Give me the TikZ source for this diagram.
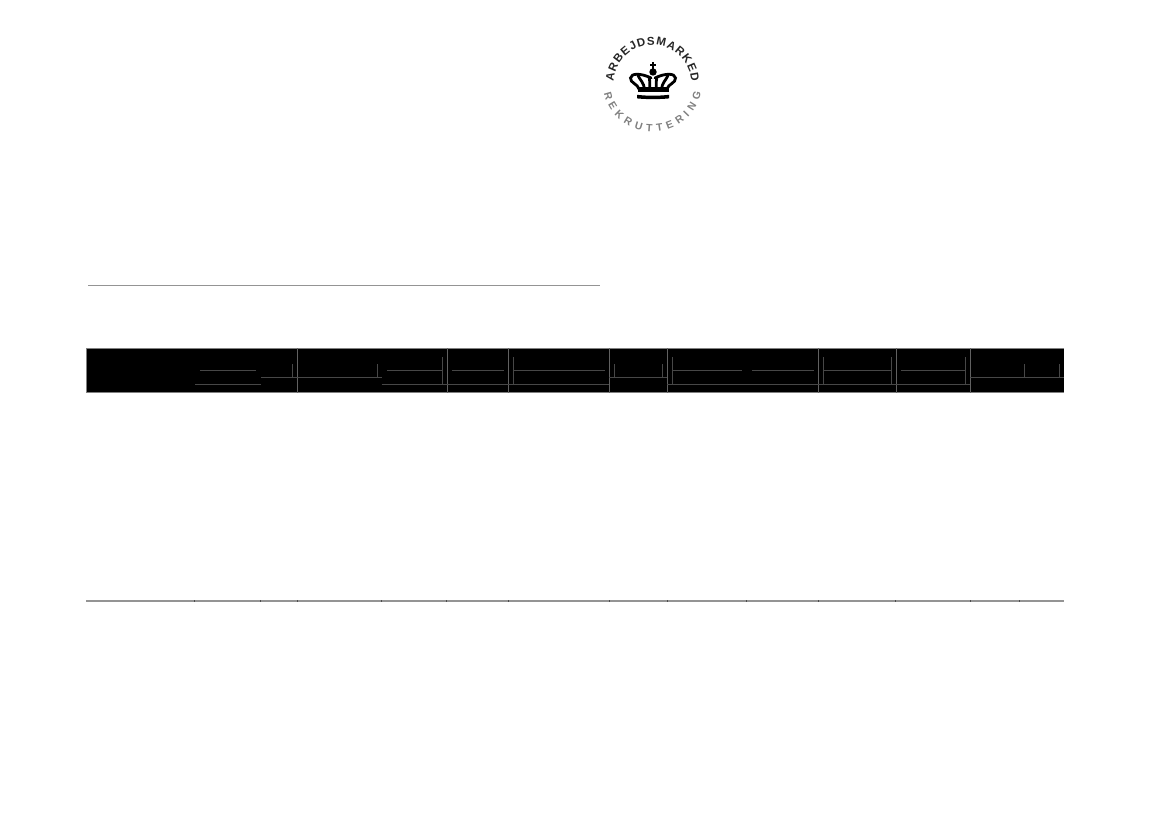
\documentclass[tikz,border=0pt]{standalone}
\usepackage{fontspec}
\setmainfont{Liberation Sans}
\usetikzlibrary{decorations.text}
\tikzset{
  rule/.style={draw=black!42,line width=1.1pt},
  edge/.style={draw=black!50,line width=0.8pt},
  cell/.style={draw=black!72,line width=0.6pt},
  divider/.style={draw=black!62,line width=0.7pt},
  arch/.style={line width=2.8pt,line cap=round},
}
\begin{document}
\begin{tikzpicture}[x=1pt,y=-1pt]
\useasboundingbox (0,0) rectangle (1169,827);
% rule above the table
\draw [rule] (88,285.5) -- (600,285.5);
% table head
\fill (86.5,348) rectangle (1064,392.5);
\draw [edge] (1064,348) -- (86.5,348) -- (86.5,392.5) -- (1064,392.5);
\draw [divider] (297.3,348) -- (297.3,392.5);
\draw [divider] (447.3,348) -- (447.3,392.5);
\draw [divider] (508.7,348) -- (508.7,392.5);
\draw [divider] (609.3,348) -- (609.3,392.5);
\draw [divider] (667.3,348) -- (667.3,392.5);
\draw [divider] (818.3,348) -- (818.3,392.5);
\draw [divider] (896.3,348) -- (896.3,392.5);
\draw [divider] (970.3,348) -- (970.3,392.5);
% lines inside the head
\draw [cell] (200,370.3) -- (255.7,370.3);
\draw [cell] (195,384.3) -- (261,384.3);
\draw [cell] (261,377.3) -- (381.7,377.3);
\draw [cell] (292.3,364) -- (292.3,377.3);
\draw [cell] (377.3,364) -- (377.3,377.3);
\draw [cell] (387,370.3) -- (442.3,370.3);
\draw [cell] (381.7,384.3) -- (609.3,384.3);
\draw [cell] (442.3,357) -- (442.3,384.3);
\draw [cell] (452.3,370.3) -- (504,370.3);
\draw [cell] (513.3,357) -- (513.3,384.3);
\draw [cell] (513.3,370.3) -- (605,370.3);
\draw [cell] (609.3,377.3) -- (667.3,377.3);
\draw [cell] (614.3,364) -- (614.3,377.3);
\draw [cell] (662.3,364) -- (662.3,377.3);
\draw [cell] (672.3,357) -- (672.3,384.3);
\draw [cell] (672.3,370.3) -- (741.7,370.3);
\draw [cell] (667.3,384.3) -- (970.3,384.3);
\draw [cell] (752,370.3) -- (814,370.3);
\draw [cell] (823.3,357) -- (823.3,384.3);
\draw [cell] (823.3,370.3) -- (891.3,370.3);
\draw [cell] (891.3,357) -- (891.3,384.3);
\draw [cell] (901,370.3) -- (965.3,370.3);
\draw [cell] (965.3,357) -- (965.3,384.3);
\draw [cell] (970.3,377.3) -- (1064,377.3);
\draw [cell] (1024.3,364) -- (1024.3,377.3);
\draw [cell] (1059.3,364) -- (1059.3,377.3);
% foot of the table
\draw [rule] (86,601) -- (1064,601);
\foreach \tickx in {194.3,260.3,297.3,381.7,446.7,508.3,609.3,667,746.3,818,895.7,970,1019.3}
  \draw [black!70,line width=0.6pt] (\tickx,600.3) -- (\tickx,601.7);
% logo text
\begin{scope}[shift={(652.5,84)},y=1pt]
\path [decorate,decoration={text along path,text align={fit to path},
  text={|\fontsize{11.5}{11.5}\selectfont\bfseries\color{black!85}|ARBEJDSMARKED}}]
  (176:39) arc (176:4:39);
\path [decorate,decoration={text along path,text align={fit to path},
  text={|\fontsize{10.5}{10.5}\selectfont\bfseries\color{black!50}|REKRUTTERING}}]
  (191:49.5 and 47.5) arc [start angle=191,end angle=349,x radius=49.5,y radius=47.5];
\end{scope}
% crown, one half and its mirror image
\begin{scope}[shift={(653,0)}]
\fill (-1.4,61.5) rectangle (1.4,70);
\fill (-3,64.4) rectangle (3,66.4);
\fill (0,72) circle (3.7);
\foreach \side in {-1,1} {
  \draw [arch] (\side*14,89) .. controls (\side*15,84) and (\side*23,83) .. (\side*22.5,78)
    .. controls (\side*22,73) and (\side*12,73) .. (\side*2,78);
  \draw [arch] (\side*8.5,89) .. controls (\side*9,83) and (\side*13,80) .. (\side*15,75.5);
  \draw [arch] (\side*3.5,89) .. controls (\side*3,85) and (\side*3,81) .. (\side*4,77);
}
\fill (-15.5,87) rectangle (15.5,92);
\fill (-16,94.8) .. controls (-6,96) and (6,96) .. (16,94.8) -- (16,98.4)
  .. controls (6,99.4) and (-6,99.4) .. (-16,98.4) -- cycle;
\end{scope}
\end{tikzpicture}
\end{document}
